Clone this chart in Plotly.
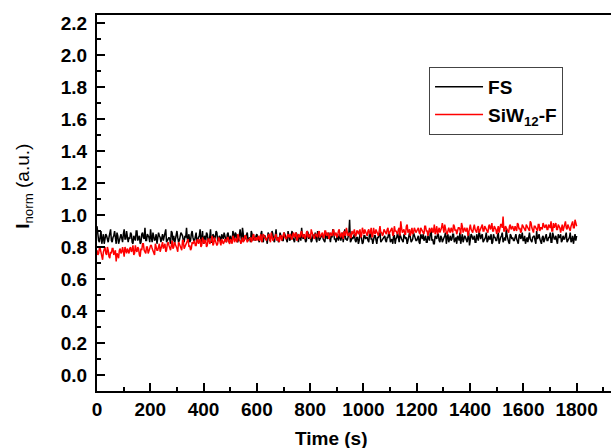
import plotly.graph_objects as go

# Readings every 6 s (t = 0, 6, ..., 1800) and in between (t = 3, 9, ..., 1797)
time_main = list(range(0, 1801, 6))
time_mid = list(range(3, 1800, 6))

# FS (black), in hundredths
fs_main = [
    93, 84, 86, 82, 88, 85, 87, 83, 89, 84, 86, 90, 82, 87, 85, 88, 83, 91, 85, 84,
    86, 89, 83, 87, 84, 90, 85, 82, 88, 86, 92, 84, 87, 83, 86, 89, 84, 88, 85, 87,
    83, 88, 86, 91, 84, 86, 82, 89, 87, 85, 90, 83, 86, 88, 84, 87, 92, 85, 83, 88,
    86, 84, 89, 85, 87, 83, 90, 86, 84, 88, 85, 91, 83, 87, 86, 89, 84, 86, 88, 85,
    87, 83, 89, 86, 84, 90, 85, 88, 83, 87, 86, 92, 84, 86, 89, 85, 83, 88, 87, 84,
    88, 85, 86, 90, 83, 87, 85, 89, 84, 86, 88, 83, 91, 86, 85, 87, 84, 89, 86, 83,
    87, 85, 90, 84, 86, 88, 83, 87, 92, 85, 86, 84, 89, 87, 83, 88, 86, 85, 90, 84,
    86, 88, 84, 87, 85, 89, 83, 86, 90, 85, 87, 84, 88, 86, 83, 91, 85, 87, 97, 84,
    85, 88, 83, 86, 84, 89, 82, 87, 85, 86, 83, 88, 85, 84, 87, 82, 86, 89, 84, 85,
    87, 83, 86, 88, 84, 82, 87, 85, 89, 83, 86, 84, 88, 85, 82, 87, 86, 84, 89, 85,
    84, 87, 82, 86, 88, 85, 83, 87, 84, 90, 85, 82, 86, 88, 84, 87, 83, 85, 89, 86,
    83, 87, 85, 88, 84, 82, 86, 89, 85, 83, 87, 84, 86, 81, 88, 85, 87, 83, 86, 90,
    85, 88, 84, 86, 83, 87, 85, 82, 88, 86, 84, 89, 85, 87, 83, 86, 91, 84, 82, 87,
    86, 84, 88, 83, 87, 85, 89, 84, 82, 86, 88, 85, 83, 87, 84, 90, 86, 85, 82, 87,
    85, 88, 84, 86, 83, 89, 85, 87, 82, 86, 88, 84, 85, 87, 83, 86, 89, 84, 82, 88,
    87,
]
fs_mid = [
    87, 83, 90, 85, 82, 88, 84, 86, 91, 83, 87, 85, 89, 82, 86, 84, 88, 85, 90, 83,
    85, 88, 82, 86, 90, 84, 87, 83, 89, 85, 84, 88, 86, 91, 83, 87, 85, 82, 89, 86,
    87, 84, 89, 83, 86, 85, 90, 84, 82, 88, 86, 84, 89, 87, 83, 86, 85, 88, 84, 90,
    84, 88, 83, 86, 91, 85, 82, 87, 89, 84, 86, 83, 88, 85, 90, 84, 87, 83, 86, 89,
    85, 88, 84, 87, 83, 86, 89, 84, 85, 91, 83, 87, 85, 88, 84, 86, 90, 84, 85, 87,
    86, 83, 89, 84, 87, 85, 82, 88, 86, 90, 84, 87, 85, 83, 89, 86, 84, 88, 85, 90,
    84, 88, 86, 83, 89, 85, 87, 84, 86, 88, 83, 90, 85, 87, 84, 86, 89, 83, 87, 85,
    88, 85, 83, 89, 86, 84, 87, 91, 85, 83, 88, 86, 84, 89, 87, 85, 84, 88, 83, 86,
    87, 84, 86, 82, 88, 85, 83, 87, 86, 84, 89, 85, 82, 87, 84, 86, 88, 83, 85, 87,
    84, 86, 89, 83, 85, 87, 82, 86, 84, 88, 85, 83, 87, 86, 84, 89, 83, 85, 87, 84,
    86, 83, 88, 85, 84, 87, 83, 86, 89, 84, 82, 87, 85, 88, 83, 86, 84, 87, 82, 88,
    85, 84, 88, 83, 86, 87, 84, 82, 88, 85, 86, 83, 89, 84, 87, 85, 83, 88, 84, 86,
    87, 83, 86, 89, 84, 85, 88, 83, 86, 84, 87, 82, 86, 89, 85, 84, 87, 83, 88, 85,
    84, 87, 85, 82, 88, 86, 84, 87, 85, 83, 89, 84, 86, 87, 82, 85, 88, 84, 86, 83,
    87, 84, 86, 89, 83, 87, 85, 84, 88, 86, 83, 87, 85, 89, 84, 86, 83, 87, 85, 84,
]

# SiW12-F (red), in hundredths
siw_main = [
    78, 76, 79, 74, 77, 80, 75, 78, 73, 76, 79, 77, 71, 75, 78, 76, 80, 74, 77, 79,
    76, 80, 78, 75, 81, 77, 79, 74, 78, 82, 77, 80, 76, 79, 81, 78, 75, 80, 78, 82,
    79, 83, 80, 77, 82, 81, 78, 84, 80, 82, 79, 83, 81, 78, 84, 80, 82, 85, 81, 79,
    82, 84, 81, 85, 83, 80, 86, 82, 84, 81, 85, 83, 87, 82, 84, 81, 86, 83, 85, 82,
    85, 83, 86, 82, 84, 87, 83, 85, 88, 84, 82, 86, 84, 87, 83, 85, 86, 84, 88, 85,
    84, 87, 85, 83, 88, 86, 84, 87, 85, 89, 84, 86, 88, 85, 83, 87, 86, 89, 85, 87,
    86, 88, 85, 89, 87, 84, 88, 86, 90, 87, 85, 89, 86, 88, 91, 87, 85, 88, 86, 90,
    87, 89, 86, 90, 88, 85, 89, 87, 91, 88, 86, 90, 87, 89, 85, 88, 92, 87, 89, 86,
    88, 91, 87, 90, 89, 86, 92, 88, 90, 87, 91, 89, 86, 92, 88, 90, 87, 93, 89, 88,
    90, 88, 92, 89, 91, 87, 93, 90, 88, 92, 96, 89, 91, 88, 94, 90, 87, 92, 89, 91,
    90, 92, 88, 91, 89, 93, 90, 87, 92, 91, 89, 94, 90, 88, 92, 90, 95, 89, 91, 88,
    92, 89, 91, 94, 90, 88, 92, 91, 95, 89, 92, 90, 87, 93, 91, 89, 94, 90, 92, 89,
    91, 94, 90, 92, 89, 93, 91, 95, 90, 92, 88, 93, 91, 94, 99, 90, 92, 89, 93, 91,
    93, 90, 92, 95, 91, 89, 94, 92, 90, 93, 91, 96, 92, 89, 93, 91, 94, 90, 92, 95,
    92, 94, 91, 93, 96, 90, 92, 95, 91, 93, 89, 94, 92, 96, 91, 93, 90, 95, 92, 97,
    93,
]
siw_mid = [
    75, 79, 77, 72, 78, 76, 80, 74, 77, 79, 75, 78, 76, 73, 79, 77, 75, 80, 76, 78,
    79, 77, 81, 76, 78, 80, 75, 79, 82, 78, 76, 80, 77, 81, 79, 76, 82, 78, 80, 77,
    81, 79, 82, 78, 83, 80, 81, 79, 83, 81, 77, 82, 80, 84, 79, 81, 83, 80, 78, 83,
    83, 81, 84, 82, 85, 81, 83, 84, 80, 85, 82, 84, 81, 86, 83, 82, 85, 81, 84, 83,
    84, 86, 83, 85, 82, 86, 85, 83, 87, 84, 85, 83, 87, 85, 84, 86, 83, 87, 84, 86,
    86, 84, 88, 85, 87, 84, 86, 88, 83, 87, 85, 88, 84, 86, 87, 84, 88, 86, 85, 88,
    87, 85, 88, 86, 89, 85, 87, 89, 86, 88, 86, 90, 87, 85, 89, 86, 88, 87, 89, 86,
    88, 86, 90, 87, 89, 86, 88, 90, 87, 89, 87, 91, 86, 88, 90, 87, 89, 88, 86, 90,
    89, 87, 90, 88, 91, 87, 89, 91, 88, 90, 88, 92, 87, 89, 91, 88, 90, 89, 87, 91,
    89, 91, 88, 90, 92, 88, 90, 89, 91, 87, 92, 90, 88, 93, 89, 91, 90, 88, 92, 89,
    91, 89, 92, 90, 88, 93, 90, 91, 89, 92, 90, 88, 93, 91, 89, 92, 90, 94, 89, 91,
    90, 92, 89, 93, 91, 90, 92, 88, 93, 91, 90, 92, 89, 94, 90, 92, 91, 89, 93, 90,
    92, 90, 93, 91, 89, 94, 92, 90, 93, 91, 92, 89, 94, 92, 90, 93, 91, 89, 94, 92,
    91, 93, 90, 94, 92, 90, 93, 91, 94, 92, 90, 95, 91, 93, 92, 90, 94, 92, 91, 93,
    93, 91, 94, 92, 90, 95, 93, 91, 94, 92, 93, 90, 95, 92, 94, 91, 93, 96, 92, 94,
]

# merge both sets of readings in time order
fs_pairs = sorted(zip(time_main + time_mid, fs_main + fs_mid))
siw_pairs = sorted(zip(time_main + time_mid, siw_main + siw_mid))
time_s = [t for t, _ in fs_pairs]
fs_values = [v / 100 for _, v in fs_pairs]
siw_values = [v / 100 for _, v in siw_pairs]

series_names = ["FS", "SiW<sub>12</sub>-F"]
y_ticks = [round(0.2 * i, 1) for i in range(12)]
x_ticks = list(range(0, 1801, 200))

FONT = "Liberation Sans, Arial, sans-serif"
FS = 19

fig = go.Figure()
fig.add_trace(go.Scatter(x=time_s, y=fs_values, mode="lines", name="<b>" + series_names[0] + "</b>",
                         line=dict(color="black", width=1.5)))
fig.add_trace(go.Scatter(x=time_s, y=siw_values, mode="lines", name="<b>" + series_names[1] + "</b>",
                         line=dict(color="red", width=1.5)))

fig.update_layout(
    width=611, height=448,
    margin=dict(l=97, r=0, t=15, b=57),
    paper_bgcolor="white", plot_bgcolor="white",
    font=dict(family=FONT, size=FS, color="black"),
    showlegend=True,
    legend=dict(
        x=0.646, y=0.862, xanchor="left", yanchor="top",
        bordercolor="#444", borderwidth=1, bgcolor="white",
        font=dict(family=FONT, size=19, color="black"),
        itemwidth=48, tracegroupgap=0,
    ),
    xaxis=dict(
        range=[0, 1929], tickmode="array", tickvals=x_ticks,
        ticktext=["<b>%d</b>" % v for v in x_ticks],
        ticks="inside", ticklen=8, tickwidth=2, tickcolor="black",
        showline=True, linewidth=2, linecolor="black", mirror=True,
        showgrid=False, zeroline=False,
        minor=dict(dtick=100, tick0=0, ticks="inside", ticklen=4, tickwidth=2, tickcolor="black"),
        tickfont=dict(family=FONT, size=FS, color="black"),
    ),
    yaxis=dict(
        range=[-0.1, 2.25], tickmode="array", tickvals=y_ticks,
        ticktext=["<b>%.1f</b>" % v for v in y_ticks],
        ticks="inside", ticklen=8, tickwidth=2, tickcolor="black",
        showline=True, linewidth=2, linecolor="black", mirror=False,
        showgrid=False, zeroline=False,
        minor=dict(dtick=0.1, tick0=0, ticks="inside", ticklen=4, tickwidth=2, tickcolor="black"),
        tickfont=dict(family=FONT, size=FS, color="black"),
        ticklabelstandoff=4,
    ),
    annotations=[
        dict(text="<b>Time (s)</b>", xref="paper", yref="paper", x=0.457, y=-0.125,
             xanchor="center", yanchor="middle", showarrow=False,
             font=dict(family=FONT, size=FS, color="black")),
        dict(text="<b>I</b><sub>norm</sub> (a.u.)", xref="paper", yref="paper", x=-0.142, y=0.543,
             xanchor="center", yanchor="middle", textangle=-90, showarrow=False,
             font=dict(family=FONT, size=FS, color="black")),
    ],
)

fig.write_html("out.html")
